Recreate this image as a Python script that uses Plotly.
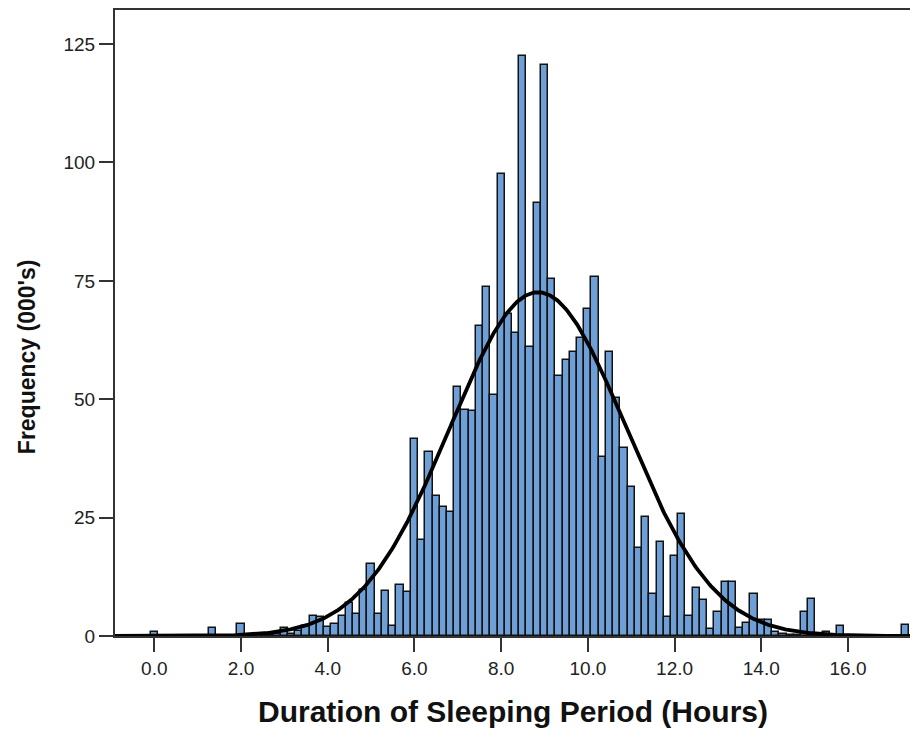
import numpy as np
import plotly.graph_objects as go

# ---- data (thousands of people per 10-minute bin) ----
bin_width_hours = 1 / 6
# frequency for bins centred at 0.0, 0.167, 0.333, ... hours (index k -> k/6 h)
freq = [
    0.8, 0, 0, 0, 0, 0, 0, 0, 1.6, 0, 0, 0,            # 0.0 - 1.833
    2.5, 0, 0, 0, 0.3, 0.5,                            # 2.0 - 2.833
    1.6, 0.5, 1.0, 2.2, 4.2, 4.1,                      # 3.0 - 3.833
    1.8, 2.5, 4.3, 7.0, 4.6, 9.7,                      # 4.0 - 4.833
    15.2, 4.6, 9.6, 2.1, 10.8, 9.2,                    # 5.0 - 5.833
    41.7, 20.3, 38.9, 29.6, 27.3, 26.1,                # 6.0 - 6.833
    52.5, 47.8, 47.6, 65.5, 73.8, 51.0,                # 7.0 - 7.833
    97.5, 68.0, 64.0, 122.5, 61.0, 91.5,               # 8.0 - 8.833
    120.5, 75.3, 55.0, 58.3, 60.0, 63.0,               # 9.0 - 9.833
    69.0, 75.8, 37.8, 60.0, 50.3, 39.8,                # 10.0 - 10.833
    31.5, 18.5, 25.2, 8.8, 19.8, 4.1,                  # 11.0 - 11.833
    16.9, 25.7, 4.2, 10.1, 7.6, 1.4,                   # 12.0 - 12.833
    5.0, 11.3, 11.3, 1.6, 2.7, 8.9,                    # 13.0 - 13.833
    3.4, 3.4, 0.8, 0.5, 0.3, 0.3,                      # 14.0 - 14.833
    5.0, 7.8, 0.5, 0.9, 0, 2.1,                        # 15.0 - 15.833
    0, 0, 0, 0, 0, 0,                                  # 16.0 - 16.833
    0, 0, 2.3,                                         # 17.0 - 17.333
]
bin_centers = np.arange(len(freq)) * bin_width_hours

# fitted normal curve parameters
curve_mean = 8.85
curve_sd = 2.03
curve_peak = 72.6

x_ticks = [0, 2, 4, 6, 8, 10, 12, 14, 16]
x_tick_labels = ["0.0", "2.0", "4.0", "6.0", "8.0", "10.0", "12.0", "14.0", "16.0"]
y_ticks = [0, 25, 50, 75, 100, 125]

x_range = [-0.907, 17.43]
y_range = [0, 132.2]

xs = np.linspace(x_range[0], x_range[1], 600)
ys = curve_peak * np.exp(-0.5 * ((xs - curve_mean) / curve_sd) ** 2)

fig = go.Figure()
fig.add_trace(go.Bar(
    x=bin_centers, y=freq, width=bin_width_hours,
    marker=dict(color="#6e9fd7", line=dict(color="#121212", width=1.5)),
    showlegend=False, hoverinfo="x+y",
))
fig.add_trace(go.Scatter(
    x=xs, y=ys, mode="lines",
    line=dict(color="black", width=3.8),
    showlegend=False, hoverinfo="skip",
))

axis_font = dict(family="Liberation Sans, Arial, sans-serif", size=19, color="#222222")

fig.update_layout(
    width=910, height=729,
    margin=dict(l=115, r=0, t=10, b=93),
    paper_bgcolor="white", plot_bgcolor="white",
    bargap=0,
    xaxis=dict(
        range=x_range, tickvals=x_ticks, ticktext=x_tick_labels,
        ticks="outside", ticklen=14, tickwidth=1.5, tickcolor="#333333",
        showline=True, linecolor="#333333", linewidth=2, mirror=True,
        showgrid=False, zeroline=False, tickfont=axis_font,
    ),
    yaxis=dict(
        range=y_range, tickvals=y_ticks,
        ticks="outside", ticklen=14, tickwidth=1.5, tickcolor="#333333",
        showline=True, linecolor="#333333", linewidth=2,
        showgrid=False, zeroline=False, tickfont=axis_font,
    ),
    annotations=[
        dict(text="<b>Duration of Sleeping Period (Hours)</b>",
             xref="paper", yref="paper", x=0.5, y=-0.121,
             xanchor="center", yanchor="middle", showarrow=False,
             font=dict(family="Liberation Sans, Arial, sans-serif", size=30, color="#111111")),
        dict(text="<b>Frequency (000's)</b>", textangle=-90,
             xref="paper", yref="paper", x=-0.1107, y=0.447,
             xanchor="center", yanchor="middle", showarrow=False,
             font=dict(family="Liberation Sans, Arial, sans-serif", size=23, color="#111111")),
    ],
)

fig.write_html("out.html")
